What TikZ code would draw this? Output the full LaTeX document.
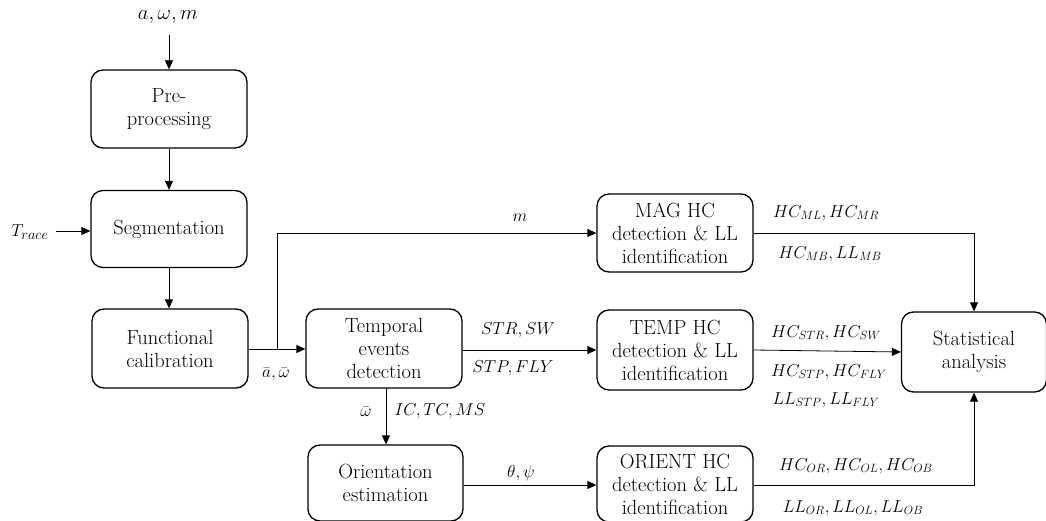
\documentclass[tikz,border=0pt]{standalone}
\usetikzlibrary{arrows.meta}
\begin{document}
\begin{tikzpicture}[x=1pt,y=-1pt,
  blk/.style={draw,rounded corners=12pt,line width=1.3pt,minimum width=156pt,minimum height=78pt,inner sep=0pt,align=center,font=\fontsize{20.5}{23}\selectfont},
  arr/.style={line width=0.8pt,-{Triangle[length=9pt,width=8pt]}},
  lbl/.style={font=\fontsize{16.5}{19}\selectfont,inner sep=1pt}]
\useasboundingbox (0,0) rectangle (1046,521);
\node[blk] (pre) at (169,109) {Pre-\\processing};
\node[blk,minimum height=77pt] (seg) at (169,229) {Segmentation};
\node[blk,minimum height=79pt] (fun) at (170,348.5) {Functional\\calibration};
\node[blk,minimum height=79pt] (tem) at (384,348.5) {Temporal\\events\\detection};
\node[blk,minimum width=155pt,minimum height=76pt] (ori) at (385.5,483) {Orientation\\estimation};
\node[blk] (mag) at (675,233) {MAG HC\\detection \& LL\\identification};
\node[blk,minimum height=80pt] (tmp) at (675,350) {TEMP HC\\detection \& LL\\identification};
\node[blk,minimum height=76pt] (orn) at (675,484) {ORIENT HC\\detection \& LL\\identification};
\node[blk,minimum width=145pt,minimum height=80pt] (sta) at (974,352) {Statistical\\analysis};
\coordinate (in1) at (169,35);
\coordinate (tr) at (56,231);
\coordinate (br) at (277,349);
\node[lbl,font=\fontsize{20}{20}\selectfont] (lin) at (168,17) {$a,\omega,m$};
\node[lbl,font=\fontsize{19}{20}\selectfont] (ltr) at (30,232) {$T_{race}$};
\draw[arr] (in1) -- (pre.north);
\draw[arr] (pre) -- (seg);
\draw[arr] (tr) -- (seg.west |- tr);
\draw[arr] (seg.south) -- (seg.south |- fun.north);
\draw[arr] (fun.east |- br) -- (tem.west |- br);
\draw[arr] (br) |- (mag.west);
\draw[arr] (tem.east |- tmp) -- (tmp.west);
\draw[arr] (386,388) coordinate (ts) -- (ts |- ori.north);
\draw[arr] (ori.east |- 0,485) -- (orn.west |- 0,485);
\draw[arr] (mag.east) -| (sta.north);
\draw[arr] (tmp.east) -- (sta.west);
\draw[arr] (orn.east |- 0,485) -| (sta.south);
\node[lbl,font=\fontsize{18}{19}\selectfont] (lm) at (520,218) {$m$};
\node[lbl] (law) at (276,374) {$\bar a,\bar\omega$};
\node[lbl] (l1) at (518,330) {$STR,SW$};
\node[lbl] (l2) at (513,368) {$STP,FLY$};
\node[lbl] (l3) at (366,412) {$\bar\omega$};
\node[lbl] (l4) at (440,411) {$IC,TC,MS$};
\node[lbl,font=\fontsize{18}{19}\selectfont] (l5) at (521,473) {$\theta,\psi$};
\node[lbl] (m1) at (826,213) {$HC_{ML},HC_{MR}$};
\node[lbl] (m2) at (830,254) {$HC_{MB},LL_{MB}$};
\node[lbl] (t1) at (826,333) {$HC_{STR},HC_{SW}$};
\node[lbl] (t2) at (829,372) {$HC_{STP},HC_{FLY}$};
\node[lbl] (t3) at (826,400) {$LL_{STP},LL_{FLY}$};
\node[lbl] (o1) at (856,466) {$HC_{OR},HC_{OL},HC_{OB}$};
\node[lbl] (o2) at (853,508) {$LL_{OR},LL_{OL},LL_{OB}$};
\end{tikzpicture}
\end{document}
